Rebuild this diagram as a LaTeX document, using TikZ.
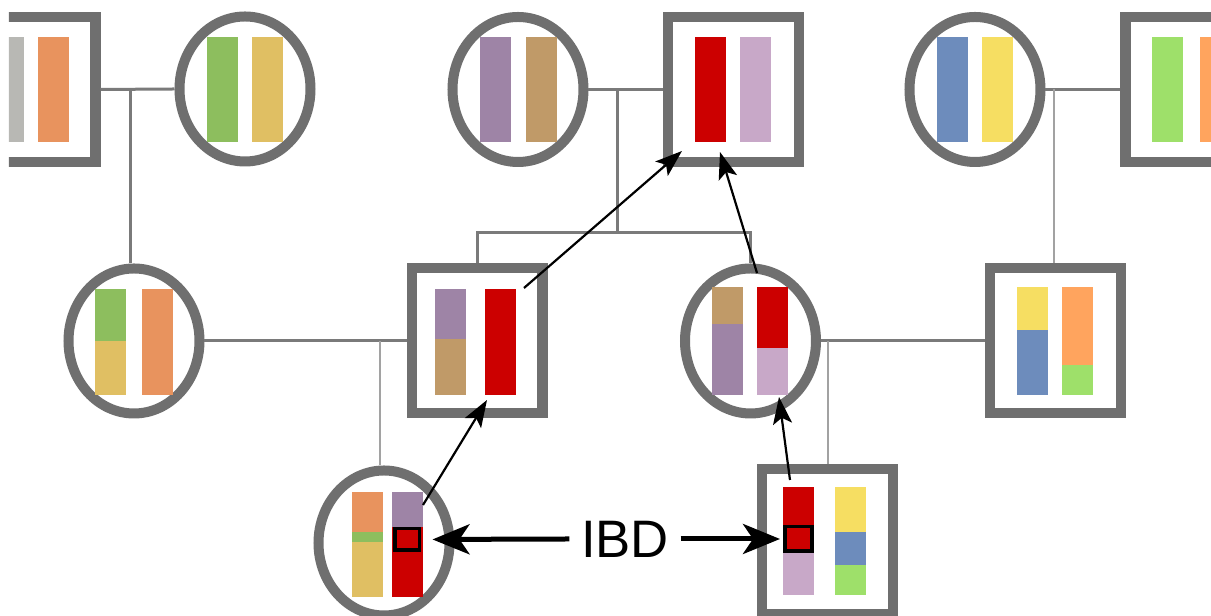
\documentclass[tikz,border=0pt]{standalone}
\usepackage{fontspec}
\setmainfont{Liberation Sans}
\usetikzlibrary{shapes.geometric, arrows.meta, calc}
\definecolor{edge}{HTML}{6F6F6F}
\definecolor{pedline}{HTML}{7A7A7A}
\definecolor{pedthin}{HTML}{A2A2A2}
\definecolor{cgray}{HTML}{B8B8B4}
\definecolor{corange}{HTML}{E8935E}
\definecolor{cgreen}{HTML}{8DBE5E}
\definecolor{cgold}{HTML}{E0BF63}
\definecolor{cpurple}{HTML}{9E84A6}
\definecolor{ctan}{HTML}{C09A68}
\definecolor{cred}{HTML}{CC0000}
\definecolor{clilac}{HTML}{C8A8C8}
\definecolor{cblue}{HTML}{6D8CBC}
\definecolor{cyellow}{HTML}{F6DE62}
\definecolor{cgreen2}{HTML}{9EE06A}
\definecolor{corange2}{HTML}{FFA45E}
\begin{document}
\begin{tikzpicture}[
    female/.style={ellipse, draw=edge, line width=0.1cm, inner sep=0pt,
                   minimum width=1.31cm, minimum height=1.45cm},
    male/.style={rectangle, draw=edge, line width=0.1cm, inner sep=0pt,
                 minimum width=1.31cm, minimum height=1.45cm},
    seg/.style={rectangle, inner sep=0pt, outer sep=0pt, minimum width=0.31cm, anchor=north west},
    ibdbox/.style={rectangle, draw=black, line width=0.035cm, inner sep=0pt},
    rel/.style={draw=pedline, line width=0.03cm},
    desc/.style={draw=pedthin, line width=0.02cm},
    arr/.style={-{Stealth[length=0.27cm, width=0.19cm, inset=0.06cm]}, line width=0.022cm},
    ibdarr/.style={-{Stealth[length=0.37cm, width=0.3cm, inset=0.1cm]}, line width=0.05cm},
]
    \useasboundingbox (0,0) rectangle (12.11,-6.16);
    \clip (0.09,0) rectangle (12.11,-6.16);
    % individuals
    \node[male] (tA) at (0.30,-0.895) {};
    \node[female] (tC1) at (2.45,-0.89) {};
    \node[female] (tC2) at (5.18,-0.895) {};
    \node[male] (tB) at (7.34,-0.895) {};
    \node[female] (tC3) at (9.75,-0.895) {};
    \node[male] (tD) at (11.91,-0.895) {};
    \node[female] (mC1) at (1.34,-3.41) {};
    \node[male] (mS2) at (4.77,-3.41) {};
    \node[female] (mC3) at (7.505,-3.41) {};
    \node[male] (mS4) at (10.555,-3.41) {};
    \node[female] (bC1) at (3.84,-5.43) {};
    \node[male] (bS2) at (8.28,-5.42) {};
    % pedigree lines
    \draw[rel] (tA.east) -- (tC1.west);
    \coordinate (j1) at ($(tA.east)!0.4!(tC1.west)$);
    \draw[rel] (j1) -- (j1 |- mC1.north);
    \draw[rel] (tC2.east) -- (tB.west);
    \coordinate (j2) at ($(tC2.east)!0.39!(tB.west)$);
    \coordinate (sib) at ($(j2)+(0,-1.43)$);
    \draw[rel] (j2) -- (sib);
    \draw[rel] (mS2.north) |- (sib) -| (mC3.north);
    \draw[rel] (tC3.east) -- (tD.west);
    \coordinate (j3) at ($(tC3.east)!0.11!(tD.west)$);
    \draw[desc] (j3) -- (j3 |- mS4.north);
    \draw[rel] (mC1.east) -- (mS2.west);
    \coordinate (j4) at ($(mC1.east)!0.87!(mS2.west)$);
    \draw[desc] (j4) -- (j4 |- bC1.north);
    \draw[rel] (mC3.east) -- (mS4.west);
    \coordinate (j5) at ($(mC3.east)!0.04!(mS4.west)$);
    \draw[desc] (j5) -- (j5 |- bS2.north);
    % chromosomes, top row
    \node[seg, fill=cgray, minimum height=1.05cm] (tAa) at (-0.07,-0.37) {};
    \node[seg, fill=corange, minimum height=1.05cm] (tAb) at (0.38,-0.37) {};
    \node[seg, fill=cgreen, minimum height=1.05cm] (tC1a) at (2.07,-0.37) {};
    \node[seg, fill=cgold, minimum height=1.05cm] (tC1b) at (2.52,-0.37) {};
    \node[seg, fill=cpurple, minimum height=1.05cm] (tC2a) at (4.80,-0.37) {};
    \node[seg, fill=ctan, minimum height=1.05cm] (tC2b) at (5.26,-0.37) {};
    \node[seg, fill=cred, minimum height=1.05cm] (tBa) at (6.95,-0.37) {};
    \node[seg, fill=clilac, minimum height=1.05cm] (tBb) at (7.40,-0.37) {};
    \node[seg, fill=cblue, minimum height=1.05cm] (tC3a) at (9.37,-0.37) {};
    \node[seg, fill=cyellow, minimum height=1.05cm] (tC3b) at (9.82,-0.37) {};
    \node[seg, fill=cgreen2, minimum height=1.05cm] (tDa) at (11.52,-0.37) {};
    \node[seg, fill=corange2, minimum height=1.05cm] (tDb) at (12.00,-0.37) {};
    % chromosomes, middle row
    \node[seg, fill=cgreen, minimum height=0.52cm] (m1a) at (0.95,-2.89) {};
    \node[seg, fill=cgold, minimum height=0.54cm] (m1b) at (0.95,-3.41) {};
    \node[seg, fill=corange, minimum height=1.06cm] (m1c) at (1.42,-2.89) {};
    \node[seg, fill=cpurple, minimum height=0.50cm] (m2a) at (4.35,-2.89) {};
    \node[seg, fill=ctan, minimum height=0.56cm] (m2c) at (4.35,-3.39) {};
    \node[seg, fill=cred, minimum height=1.06cm] (m2b) at (4.85,-2.89) {};
    \node[seg, fill=ctan, minimum height=0.37cm] (m3a) at (7.12,-2.87) {};
    \node[seg, fill=cpurple, minimum height=0.71cm] (m3d) at (7.12,-3.24) {};
    \node[seg, fill=cred, minimum height=0.61cm] (m3b) at (7.57,-2.87) {};
    \node[seg, fill=clilac, minimum height=0.47cm] (m3c) at (7.57,-3.48) {};
    \node[seg, fill=cyellow, minimum height=0.43cm] (m4a) at (10.17,-2.87) {};
    \node[seg, fill=cblue, minimum height=0.65cm] (m4b) at (10.17,-3.30) {};
    \node[seg, fill=corange2, minimum height=0.78cm] (m4c) at (10.62,-2.87) {};
    \node[seg, fill=cgreen2, minimum height=0.30cm] (m4d) at (10.62,-3.65) {};
    % chromosomes, bottom row
    \node[seg, fill=corange, minimum height=0.40cm] (b1a) at (3.52,-4.92) {};
    \node[seg, fill=cgreen, minimum height=0.10cm] (b1d) at (3.52,-5.32) {};
    \node[seg, fill=cgold, minimum height=0.55cm] (b1e) at (3.52,-5.42) {};
    \node[seg, fill=cpurple, minimum height=0.35cm] (b1b) at (3.92,-4.92) {};
    \node[seg, fill=cred, minimum height=0.70cm] (b1c) at (3.92,-5.27) {};
    \node[seg, fill=cred, minimum height=0.66cm] (b2a) at (7.83,-4.87) {};
    \node[seg, fill=clilac, minimum height=0.42cm] (b2b) at (7.83,-5.53) {};
    \node[seg, fill=cyellow, minimum height=0.45cm] (b2c) at (8.35,-4.87) {};
    \node[seg, fill=cblue, minimum height=0.33cm] (b2d) at (8.35,-5.32) {};
    \node[seg, fill=cgreen2, minimum height=0.30cm] (b2e) at (8.35,-5.65) {};
    \node[ibdbox, minimum width=0.245cm, minimum height=0.215cm] (ibdL) at (4.075,-5.395) {};
    \node[ibdbox, minimum width=0.275cm, minimum height=0.245cm] (ibdR) at (7.985,-5.39) {};
    % inheritance arrows
    \draw[arr] ($(m2b.north east)+(0.08,0.01)$) -- ($(tBa.south west)+(-0.13,-0.09)$);
    \draw[arr] ($(m3b.north west)+(0,0.14)$) -- ($(tBa.south east)+(-0.06,-0.10)$);
    \draw[arr] ($(b1b.north east)+(0,-0.13)$) -- ($(m2b.south west)+(0.02,-0.05)$);
    \draw[arr] ($(b2a.north west)+(0.07,0.07)$) -- ($(m3c.south)+(0.065,-0.02)$);
    % IBD label
    \node[font=\fontsize{15}{16}\selectfont, inner xsep=0.11cm, inner ysep=0pt] (ibd) at (6.25,-5.39) {IBD};
    \draw[ibdarr, shorten >=0.11cm] (ibd.west) -- (ibdL.east);
    \draw[ibdarr, shorten >=0.03cm] (ibd.east) -- (ibdR.west);
\end{tikzpicture}
\end{document}
